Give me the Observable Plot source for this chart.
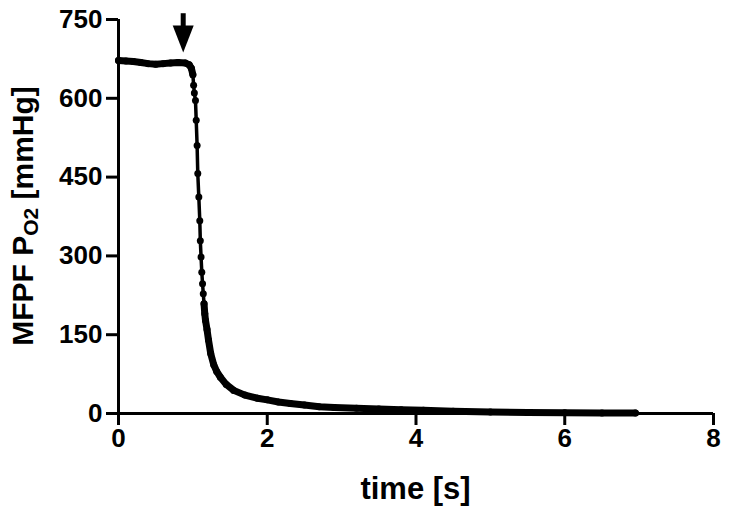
<!DOCTYPE html>
<html>
<head>
<meta charset="utf-8">
<script src="https://cdn.jsdelivr.net/npm/d3@7"></script>
<script src="https://cdn.jsdelivr.net/npm/@observablehq/plot@0.6"></script>
<style>
  body { margin: 0; background: #fff; }
  #chart svg { display: block; }
</style>
</head>
<body>
<div id="chart"></div>
<script>
// ---- data ----
const time = [
  0, 0.1, 0.2, 0.3, 0.4, 0.5, 0.6, 0.7, 0.8, 0.9, 0.95, 0.98, 1.0,
  1.01, 1.02, 1.035, 1.045, 1.057, 1.066, 1.08, 1.093, 1.10, 1.11, 1.12, 1.13, 1.14, 1.15, 1.16, 1.17,
  1.19, 1.21, 1.24, 1.28, 1.32, 1.37, 1.45, 1.55, 1.7, 1.87,
  2.0, 2.15, 2.31, 2.5, 2.7, 2.9, 3.2, 3.5, 3.8, 4.1, 4.5, 5.0, 5.5, 6.0, 6.5, 6.95
];
const po2 = [
  672, 671, 670, 668, 666, 665, 666, 667, 668, 667, 664, 657, 645,
  625, 610, 596, 558, 510, 457, 412, 367, 329, 298, 269, 247, 228, 209, 190, 177,
  160, 140, 114, 93, 80, 69, 55, 44, 35, 29,
  26, 22, 19, 16, 13, 11.5, 10, 8.5, 7, 6, 4.5, 3, 2, 1.5, 1, 1
];
const xTicks = [0, 2, 4, 6, 8];
const yTicks = [0, 150, 300, 450, 600, 750];
// stimulus arrow (time in s, PO2 values in mmHg)
const arrowTime = [0.87];
const arrowTop = [761];
const arrowBase = [735];
const arrowTip = [687];
const xTitle = "time [s]";
const yTitleMain = "MFPF P";
const yTitleSub = "O2";
const yTitleEnd = " [mmHg]";

// ---- build tables ----
const data = time.map((t, i) => ({t, v: po2[i]}));
const arrow = arrowTime.map((x, i) => ({x, top: arrowTop[i], base: arrowBase[i], tip: arrowTip[i]}));

const downTriangle = {
  draw(ctx) {
    ctx.moveTo(0, 0);
    ctx.lineTo(-10.5, -27);
    ctx.lineTo(10.5, -27);
    ctx.closePath();
  }
};

const FONT = "'Liberation Sans', Arial, Helvetica, sans-serif";

const plot = Plot.plot({
  width: 730,
  height: 515,
  marginLeft: 118,
  marginRight: 17,
  marginTop: 19,
  marginBottom: 102,
  style: {fontFamily: FONT, fontWeight: "bold", fontSize: "26px", color: "black", background: "white"},
  x: {domain: [0, 8]},
  y: {domain: [0, 750]},
  marks: [
    Plot.axisY({ticks: yTicks, tickSize: 12, tickPadding: 4, strokeWidth: 3, label: null, fontSize: 26, fontWeight: "bold"}),
    Plot.axisX({ticks: xTicks, tickSize: 12, tickPadding: 3, strokeWidth: 3, label: null, fontSize: 26, fontWeight: "bold"}),
    Plot.ruleX([0], {y1: 0, y2: 750, strokeWidth: 3}),
    Plot.ruleY([0], {x1: 0, x2: 8, strokeWidth: 3}),
    // thin connecting line
    Plot.line(data, {x: "t", y: "v", stroke: "black", strokeWidth: 3.5, strokeLinejoin: "round", strokeLinecap: "round"}),
    // dense regions where the points merge into a thick band
    Plot.line(data, {filter: d => d.t <= 1.0, x: "t", y: "v", stroke: "black", strokeWidth: 7, strokeLinejoin: "round", strokeLinecap: "round"}),
    Plot.line(data, {filter: d => d.t >= 1.15, x: "t", y: "v", stroke: "black", strokeWidth: 7, strokeLinejoin: "round", strokeLinecap: "round"}),
    // individual samples
    Plot.dot(data, {x: "t", y: "v", r: 3.5, fill: "black", stroke: "none"}),
    // stimulus arrow
    Plot.ruleX(arrow, {x: "x", y1: "top", y2: "base", strokeWidth: 5, stroke: "black"}),
    Plot.dot(arrow, {x: "x", y: "tip", symbol: downTriangle, r: 10, fill: "black", stroke: "none"})
  ]
});

document.getElementById("chart").appendChild(plot);

// axis titles
const svg = d3.select(plot);
svg.append("text")
  .attr("x", 415.5)
  .attr("y", 499)
  .attr("text-anchor", "middle")
  .style("font-family", FONT)
  .style("font-weight", "bold")
  .style("font-size", "31px")
  .attr("fill", "black")
  .text(xTitle);

const yt = svg.append("text")
  .attr("transform", "translate(33,216) rotate(-90)")
  .attr("text-anchor", "middle")
  .style("font-family", FONT)
  .style("font-weight", "bold")
  .style("font-size", "30px")
  .attr("fill", "black");
yt.append("tspan").text(yTitleMain);
yt.append("tspan").attr("dy", 5).style("font-size", "21px").text(yTitleSub);
yt.append("tspan").attr("dy", -5).text(yTitleEnd);
</script>
</body>
</html>
